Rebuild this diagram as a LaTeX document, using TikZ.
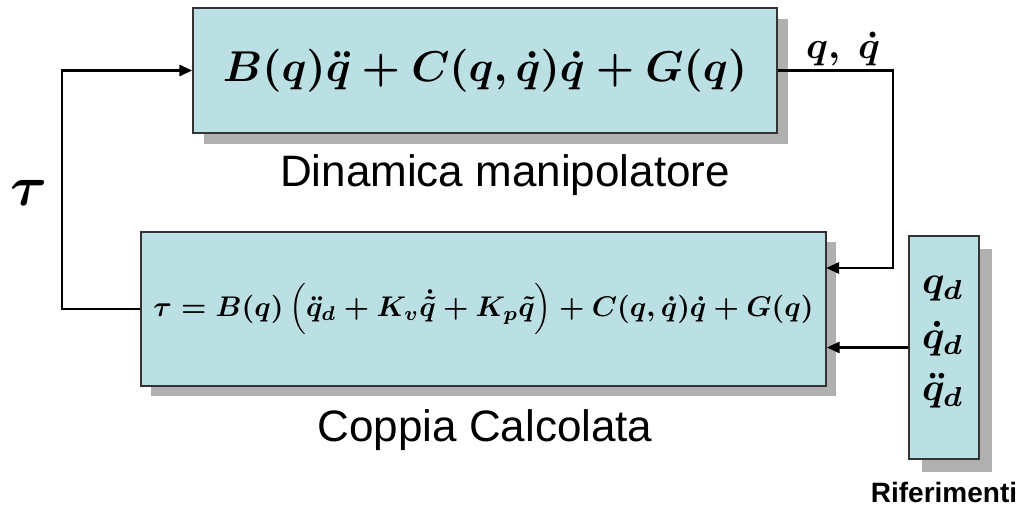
\documentclass[tikz,border=0pt]{standalone}
\usepackage{amsmath}
\usepackage{fontspec}
\setmainfont{Liberation Sans}
\usetikzlibrary{arrows.meta,shadows}
\definecolor{boxfill}{HTML}{BBE0E3}
\definecolor{shadowgray}{HTML}{B0B0B0}
\tikzset{
  blk/.style={draw=black!80, line width=1.4pt, fill=boxfill, inner sep=0pt,
    drop shadow={shadow xshift=#1, shadow yshift=-#1, fill=shadowgray, opacity=1}},
  blk/.default=11pt,
  conn/.style={line width=2.8pt, -{Triangle[length=13pt,width=11pt]}},
  lbl/.style={inner sep=0pt},
}
\begin{document}
\begin{tikzpicture}[x=1pt,y=-1pt]
\useasboundingbox (0,0) rectangle (1026,512);
\node[blk, minimum width=584pt, minimum height=125pt] (top) at (485,70.5)
  {\resizebox{524pt}{!}{\boldmath$B(q)\ddot{q}+C(q,\dot{q})\dot{q}+G(q)$}};
\node[blk=10pt, minimum width=685pt, minimum height=154pt] (bot) at (483.5,309)
  {\raisebox{3pt}{\resizebox{660pt}{!}{\boldmath$\tau=B(q)\left(\ddot{q}_d+K_v\dot{\tilde{q}}+K_p\tilde{q}\right)+C(q,\dot{q})\dot{q}+G(q)$}}};
\node[blk=13pt, minimum width=70pt, minimum height=223pt] (ref) at (944,347.5) {};
\node[lbl] (qa) at (943,289) {\resizebox{42pt}{!}{\boldmath$q_d$}};
\node[lbl] (qb) at (943,339) {\resizebox{42pt}{!}{\boldmath$\dot{q}_d$}};
\node[lbl] (qc) at (943,391) {\resizebox{42pt}{!}{\boldmath$\ddot{q}_d$}};
\node[lbl, font=\fontsize{44}{48}\selectfont] (dyn) at (505,175) {Dinamica manipolatore};
\node[lbl, font=\fontsize{44}{48}\selectfont] (cop) at (485,430) {Coppia Calcolata};
\node[lbl, font=\fontsize{28}{30}\selectfont\bfseries] (rif) at (944,492) {Riferimenti};
\node[lbl] (tau) at (29,193) {\resizebox{37pt}{!}{\boldmath$\tau$}};
\node[lbl] (qout) at (843,49) {\resizebox{74pt}{!}{\boldmath$q,\ \dot{q}$}};
\coordinate (lft) at (62,190);
\coordinate (rt) at (893,170);
\coordinate (inq) at (826,268);
\draw[conn] (bot.west) -| (lft) |- (top.west);
\draw[conn] (top.east) -| (rt) |- (inq);
\draw[conn] (ref.west) -- (ref.west -| bot.east);
\end{tikzpicture}
\end{document}
